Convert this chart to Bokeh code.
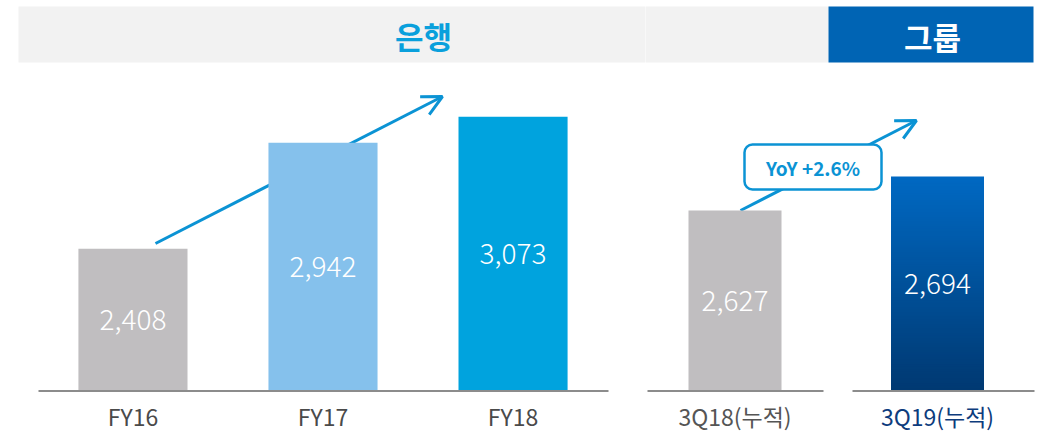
import numpy as np
from bokeh.plotting import figure
from bokeh.layouts import row
from bokeh.models import FactorRange, Range1d, Arrow, OpenHead
from bokeh.core.properties import value
from bokeh.embed import file_html
from bokeh.resources import INLINE

# ---------------- data ----------------
bank_title = "은행"
group_title = "그룹"
bank_cats = ["FY16", "FY17", "FY18"]
bank_vals = [2408, 2942, 3073]
group_cats = ["3Q18(누적)", "3Q19(누적)"]
group_vals = [2627, 2694]
yoy_text = "YoY +2.6%"

# ---------------- styles ----------------
FONT = value("Noto Sans CJK KR")
FONT_LIGHT = value("'Noto Sans CJK KR Light', 'Noto Sans CJK KR'")
bank_colors = ["#c0bec0", "#85c1ec", "#00a3de"]
group_solid = "#c0bec0"
grad_top, grad_bot = (0, 105, 195), (0, 57, 114)
bank_lbl_colors = ["#4a4a4a", "#4a4a4a", "#4a4a4a"]
group_lbl_colors = ["#555555", "#0d3c7d"]
ARROW_C = "#0b93d4"
AXIS_C = "#8c8c8c"
GRAY_BAND = "#f2f2f2"
BLUE_BAND = "#0064b4"

H = 433
B = 390          # canvas y of the baseline
WL, WR = 645, 396
PADL = 0.197
UR, R0 = 202.5, 89.5     # right panel: px per category step, px of first bar centre
# visual scale (px per unit) and baseline value of each panel
AL, V0L = 0.1983, 1693.0
AR, V0R = 0.5075, 2272.3
LBL_OFF = 25             # px below the baseline for category labels
LBL_SIZE = "23px"


def base_fig(width, x_range, v0, a):
    p = figure(width=width, height=H, x_range=x_range,
               y_range=Range1d(v0 - (H - B) / a, v0 + B / a),
               output_backend="svg", toolbar_location=None,
               x_axis_location=None, y_axis_location=None,
               min_border=0, outline_line_color=None,
               background_fill_color="white", border_fill_color="white")
    p.grid.visible = False
    return p


# ---------------- left panel (bank) ----------------
pl = base_fig(WL, FactorRange(factors=bank_cats, range_padding=PADL,
                              range_padding_units="absolute"), V0L, AL)
spanL = len(bank_cats) + 2 * PADL


def XL(cx):
    return cx * spanL / WL - PADL


def YL(cy):
    return V0L + (B - cy) / AL


pl.quad(left=[XL(18)], right=[XL(WL + 3)], top=[YL(6)], bottom=[YL(62)],
        fill_color=GRAY_BAND, line_color=None)
pl.text(x=[XL(423)], y=[YL(35)], text=[bank_title], text_font=FONT,
        text_font_size="31px", text_font_style="bold", text_color="#0aa0dc",
        text_align="center", text_baseline="middle")
pl.add_layout(Arrow(x_start=XL(155), y_start=YL(243), x_end=XL(442), y_end=YL(96),
                    line_color=ARROW_C, line_width=3, level="underlay",
                    end=OpenHead(size=20, line_color=ARROW_C, line_width=3)))
pl.vbar(x=bank_cats, top=bank_vals, bottom=V0L, width=0.574,
        fill_color=bank_colors, line_color=None)
pl.segment(x0=[XL(38)], x1=[XL(608)], y0=[YL(390.5)], y1=[YL(390.5)],
           line_color=AXIS_C, line_width=2)
for c, v, lc in zip(bank_cats, bank_vals, bank_lbl_colors):
    pl.text(x=[c], y=[(V0L + v) / 2], text=[f"{v:,}"], text_font=FONT_LIGHT,
            text_font_size="28px", text_color="white",
            text_align="center", text_baseline="middle")
    pl.text(x=[c], y=[V0L], y_offset=LBL_OFF, text=[c], text_font=FONT,
            text_font_size=LBL_SIZE, text_color=lc,
            text_align="center", text_baseline="middle")

# ---------------- right panel (group) ----------------
gx = list(range(len(group_cats)))          # category positions on the right panel
xr0 = -R0 / UR
pr = base_fig(WR, Range1d(xr0, xr0 + WR / UR), V0R, AR)


def XR(cx):
    return xr0 + cx / UR


def YR(cy):
    return V0R + (B - cy) / AR


pr.quad(left=[XR(-3)], right=[XR(183)], top=[YR(6)], bottom=[YR(62)],
        fill_color=GRAY_BAND, line_color=None)
pr.quad(left=[XR(183)], right=[XR(388)], top=[YR(6)], bottom=[YR(62)],
        fill_color=BLUE_BAND, line_color=None)
pr.text(x=[XR(287)], y=[YR(35.5)], text=[group_title], text_font=FONT,
        text_font_size="31px", text_font_style="bold", text_color="white",
        text_align="center", text_baseline="middle")
pr.add_layout(Arrow(x_start=XR(95), y_start=YR(210), x_end=XR(271), y_end=YR(120),
                    line_color=ARROW_C, line_width=3, level="underlay",
                    end=OpenHead(size=20, line_color=ARROW_C, line_width=3)))
BWR = 93 / UR
# solid bar
pr.vbar(x=gx[:1], top=group_vals[:1], bottom=V0R, width=BWR,
        fill_color=group_solid, line_color=None)
# gradient bar, drawn as thin slices from the baseline up to its value
N = 90
edges = np.linspace(V0R, group_vals[1], N + 1)
step = edges[1] - edges[0]
t = (edges[:-1] - V0R) / (group_vals[1] - V0R)
cols = ["#%02x%02x%02x" % tuple(int(round(b + (tp - b) * f)) for tp, b in zip(grad_top, grad_bot))
        for f in t]
pr.vbar(x=[gx[1]] * N, bottom=edges[:-1],
        top=np.minimum(edges[1:] + step * 0.6, group_vals[1]), width=BWR,
        fill_color=cols, line_color=None)
pr.segment(x0=[XR(2), XR(207)], x1=[XR(178), XR(389)],
           y0=[YR(390.5)] * 2, y1=[YR(390.5)] * 2, line_color=AXIS_C, line_width=2)
for xi, c, v, lc in zip(gx, group_cats, group_vals, group_lbl_colors):
    pr.text(x=[xi], y=[(V0R + v) / 2], text=[f"{v:,}"], text_font=FONT_LIGHT,
            text_font_size="28px", text_color="white",
            text_align="center", text_baseline="middle")
    pr.text(x=[xi], y=[V0R], y_offset=LBL_OFF, text=[c], text_font=FONT,
            text_font_size=LBL_SIZE, text_color=lc,
            text_align="center", text_baseline="middle")
# YoY callout
pr.quad(left=[XR(99)], right=[XR(236)], top=[YR(144)], bottom=[YR(189)],
        fill_color="white", line_color=ARROW_C, line_width=2.5, border_radius=8)
pr.text(x=[XR(167.5)], y=[YR(167)], text=[yoy_text], text_font=FONT,
        text_font_size="19px", text_font_style="bold", text_color=ARROW_C,
        text_align="center", text_baseline="middle")

layout = row(pl, pr, spacing=0)
open("out.html", "w").write(file_html(layout, INLINE))
